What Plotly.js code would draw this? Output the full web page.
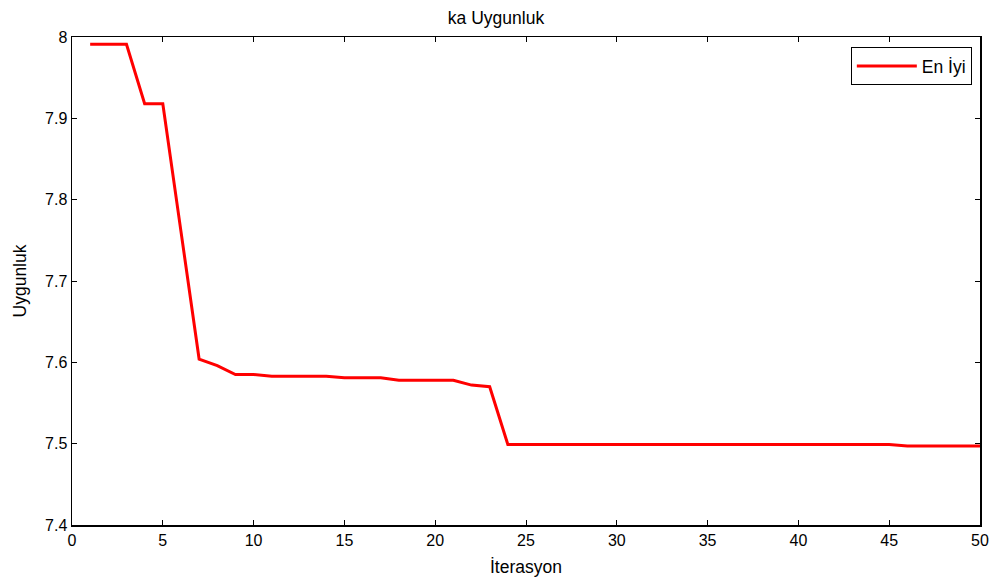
<!DOCTYPE html>
<html>
<head>
<meta charset="utf-8">
<script src="https://cdn.plot.ly/plotly-3.0.1.min.js"></script>
<style>
  html, body { margin: 0; padding: 0; background: #ffffff; }
  #chart { width: 992px; height: 581px; }
</style>
</head>
<body>
<div id="chart"></div>
<script>
// Best fitness value per iteration
const iterations = [1,2,3,4,5,6,7,8,9,10,11,12,13,14,15,16,17,18,19,20,21,22,23,24,25,26,27,28,29,30,31,32,33,34,35,36,37,38,39,40,41,42,43,44,45,46,47,48,49,50];
const bestFitness = [
  7.991, 7.991, 7.991, 7.918, 7.918, 7.761, 7.604, 7.596, 7.585, 7.585,
  7.583, 7.583, 7.583, 7.583, 7.581, 7.581, 7.581, 7.578, 7.578, 7.578,
  7.578, 7.572, 7.570, 7.499, 7.499, 7.499, 7.499, 7.499, 7.499, 7.499,
  7.499, 7.499, 7.499, 7.499, 7.499, 7.499, 7.499, 7.499, 7.499, 7.499,
  7.499, 7.499, 7.499, 7.499, 7.499, 7.497, 7.497, 7.497, 7.497, 7.497
];
const xTicks = [0,5,10,15,20,25,30,35,40,45,50];
const yTicks = [7.4,7.5,7.6,7.7,7.8,7.9,8];
const yTickText = ['7.4','7.5','7.6','7.7','7.8','7.9','8'];

const font = 'Arial, "Liberation Sans", sans-serif';

const trace = {
  x: iterations,
  y: bestFitness,
  type: 'scatter',
  mode: 'lines',
  name: 'En İyi',
  line: { color: '#ff0000', width: 3 }
};

const axisCommon = {
  showline: true,
  linecolor: '#000000',
  linewidth: 1.5,
  mirror: 'ticks',
  ticks: 'inside',
  ticklen: 5,
  tickwidth: 1,
  tickcolor: '#000000',
  showgrid: false,
  zeroline: false,
  tickfont: { family: font, size: 16, color: '#000000' }
};

const layout = {
  width: 992,
  height: 581,
  margin: { l: 72, r: 12, t: 37, b: 56 },
  paper_bgcolor: '#ffffff',
  plot_bgcolor: 'rgba(0,0,0,0)',
  showlegend: true,
  title: {
    text: 'ka Uygunluk',
    font: { family: font, size: 17.5, color: '#000000' },
    x: 0.5, xanchor: 'center',
    y: 0.97, yanchor: 'middle'
  },
  xaxis: Object.assign({}, axisCommon, {
    range: [0, 50],
    tickvals: xTicks,
    ticktext: xTicks.map(String),
    title: { text: 'İterasyon', font: { family: font, size: 17.5, color: '#000000' }, standoff: 13 }
  }),
  yaxis: Object.assign({}, axisCommon, {
    range: [7.4, 8],
    tickvals: yTicks,
    ticktext: yTickText,
    title: { text: 'Uygunluk', font: { family: font, size: 17.5, color: '#000000' }, standoff: 14 }
  }),
  legend: {
    x: 0.991, xanchor: 'right',
    y: 0.979, yanchor: 'top',
    bgcolor: '#ffffff',
    bordercolor: '#000000',
    borderwidth: 1,
    itemwidth: 60,
    font: { family: font, size: 17.5, color: '#000000' }
  }
};

Plotly.newPlot('chart', [trace], layout, { displayModeBar: false, staticPlot: true });
</script>
</body>
</html>
